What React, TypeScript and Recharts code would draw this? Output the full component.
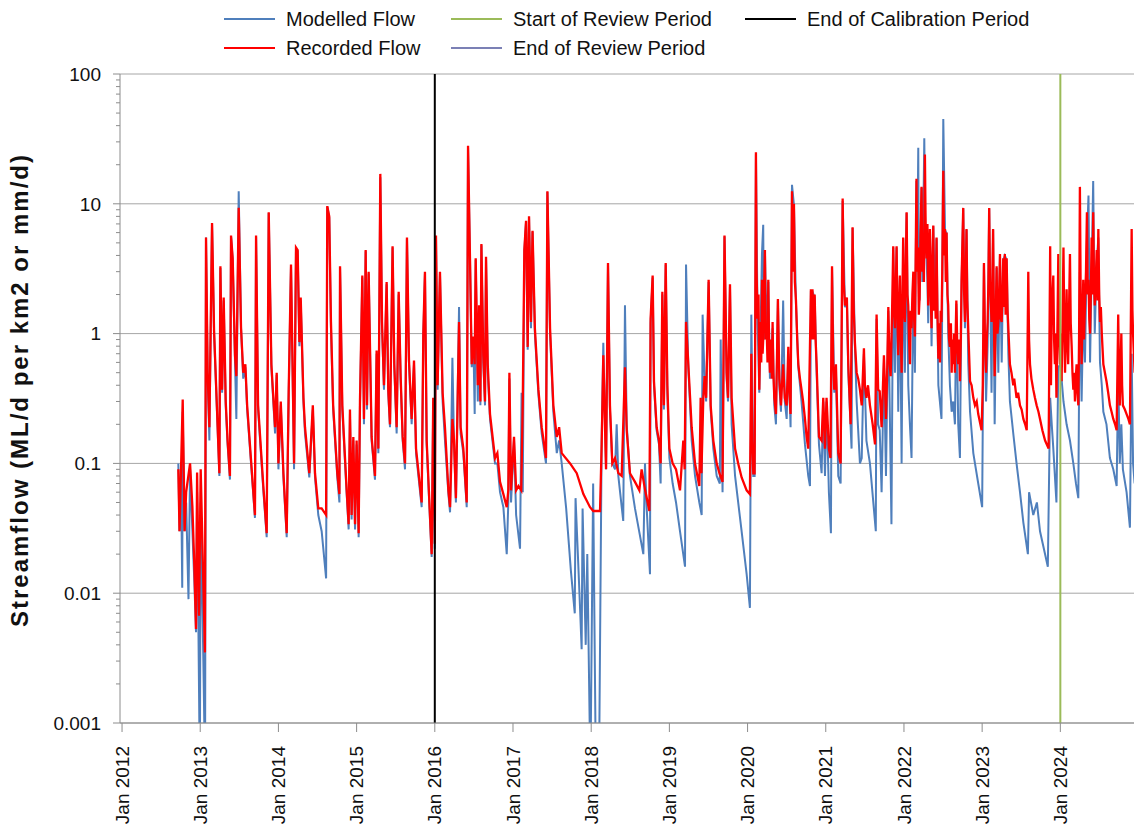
import { LineChart, Line, XAxis, YAxis, ReferenceLine, Legend, Label } from 'recharts';

// time as decimal year, flow in ML/d per km2
const recordedEarly: [number, number][] = [
  [2012.72, 0.09], [2012.735, 0.03], [2012.776, 0.31], [2012.8, 0.03], [2012.82, 0.06], [2012.87, 0.1],
  [2012.9, 0.046], [2012.925, 0.016], [2012.946, 0.0053], [2012.96, 0.085], [2012.985, 0.0067], [2013.006, 0.09],
  [2013.06, 0.0035], [2013.074, 5.5], [2013.095, 0.5], [2013.117, 0.19], [2013.151, 7.1], [2013.177, 1.05],
  [2013.245, 0.084], [2013.258, 3.3], [2013.28, 0.37], [2013.3, 1.9], [2013.326, 0.3], [2013.35, 0.15],
  [2013.38, 0.08], [2013.394, 5.7], [2013.415, 3.8], [2013.445, 0.68], [2013.462, 0.47], [2013.492, 9.3],
  [2013.522, 1.1], [2013.55, 0.5], [2013.577, 0.58], [2013.6, 0.28], [2013.7, 0.04], [2013.714, 5.7],
  [2013.74, 0.28], [2013.807, 0.067], [2013.85, 0.029], [2013.876, 8.6], [2013.91, 0.58], [2013.957, 0.19],
  [2013.978, 0.5], [2014.0, 0.1], [2014.03, 0.3], [2014.064, 0.084], [2014.106, 0.029], [2014.131, 0.35],
  [2014.161, 3.4], [2014.2, 0.1], [2014.225, 4.6], [2014.246, 4.4], [2014.268, 0.86], [2014.285, 1.9],
  [2014.32, 0.32], [2014.34, 0.19], [2014.395, 0.084], [2014.44, 0.28], [2014.468, 0.084], [2014.51, 0.045],
  [2014.553, 0.045], [2014.61, 0.04], [2014.625, 9.6], [2014.65, 8], [2014.672, 1.23], [2014.7, 0.28],
  [2014.753, 0.084], [2014.78, 0.058], [2014.788, 3.3], [2014.817, 0.28], [2014.873, 0.062], [2014.898, 0.034],
  [2014.915, 0.26], [2014.936, 0.04], [2014.958, 0.16], [2014.98, 0.034], [2015.0, 0.15], [2015.026, 0.029],
  [2015.043, 0.3], [2015.073, 2.8], [2015.094, 0.22], [2015.116, 4.4], [2015.133, 0.28], [2015.154, 3.0],
  [2015.192, 0.16], [2015.235, 0.08], [2015.256, 0.74], [2015.278, 0.13], [2015.303, 17], [2015.325, 1.23],
  [2015.35, 0.4], [2015.384, 2.5], [2015.405, 0.37], [2015.427, 0.2], [2015.46, 4.7], [2015.482, 0.58],
  [2015.512, 0.19], [2015.538, 2.1], [2015.563, 0.47], [2015.589, 0.16], [2015.619, 0.1], [2015.644, 5.5],
  [2015.67, 0.62], [2015.704, 0.22], [2015.734, 0.62], [2015.76, 0.13], [2015.832, 0.05], [2015.853, 1.0],
  [2015.874, 3.0], [2015.896, 0.15], [2015.938, 0.04], [2015.96, 0.02], [2015.98, 0.32], [2016.0, 0.024],
];

const recordedMid: [number, number][] = [
  [2016.015, 5.7], [2016.036, 0.4], [2016.066, 3.0], [2016.1, 0.35], [2016.13, 0.19], [2016.174, 0.062],
  [2016.195, 0.046], [2016.225, 0.22], [2016.246, 0.15], [2016.27, 0.054], [2016.31, 1.23], [2016.33, 0.19],
  [2016.365, 0.13], [2016.408, 0.05], [2016.425, 28], [2016.45, 3.8], [2016.472, 0.58], [2016.493, 0.95],
  [2016.51, 0.58], [2016.523, 3.8], [2016.55, 0.4], [2016.566, 1.65], [2016.583, 0.3], [2016.596, 4.9],
  [2016.62, 0.68], [2016.642, 0.3], [2016.655, 3.9], [2016.677, 0.58], [2016.706, 0.24], [2016.77, 0.11],
  [2016.8, 0.12], [2016.834, 0.072], [2016.877, 0.058], [2016.92, 0.046], [2016.94, 0.062], [2016.954, 0.5],
  [2016.975, 0.062], [2017.013, 0.16], [2017.04, 0.062], [2017.07, 0.067], [2017.105, 0.062], [2017.125, 0.3],
  [2017.145, 4.4], [2017.167, 7.4], [2017.188, 0.79], [2017.205, 8], [2017.23, 1.23], [2017.25, 6.2],
  [2017.28, 1.1], [2017.325, 0.37], [2017.367, 0.19], [2017.422, 0.11], [2017.44, 12.5], [2017.474, 1.1],
  [2017.516, 0.28], [2017.56, 0.16], [2017.59, 0.19], [2017.623, 0.12], [2017.73, 0.1], [2017.815, 0.084],
  [2017.9, 0.058], [2017.985, 0.046], [2018.027, 0.043], [2018.113, 0.043], [2018.134, 0.14], [2018.155, 0.68],
  [2018.19, 0.09], [2018.215, 3.5], [2018.24, 0.28], [2018.27, 0.1], [2018.305, 0.11], [2018.347, 0.084],
  [2018.39, 0.08], [2018.432, 0.55], [2018.454, 0.18], [2018.496, 0.084], [2018.56, 0.072], [2018.616, 0.062],
  [2018.645, 0.09], [2018.69, 0.062], [2018.744, 0.043], [2018.76, 1.3], [2018.786, 2.8], [2018.803, 0.43],
  [2018.837, 0.19], [2018.867, 0.15], [2018.888, 0.1], [2018.91, 2.1], [2018.93, 0.28], [2018.953, 3.5],
  [2018.974, 0.4], [2019.0, 0.13], [2019.042, 0.1], [2019.085, 0.09], [2019.136, 0.062], [2019.178, 0.15],
  [2019.195, 0.09], [2019.213, 1.23], [2019.242, 0.58], [2019.285, 0.19], [2019.328, 0.1], [2019.383, 0.067],
  [2019.4, 0.32], [2019.41, 0.084], [2019.434, 0.32], [2019.45, 0.47], [2019.47, 0.32], [2019.502, 2.6],
  [2019.528, 0.28], [2019.562, 0.15], [2019.605, 0.1], [2019.64, 0.084], [2019.68, 0.072], [2019.705, 5.7],
  [2019.732, 0.5], [2019.75, 0.32], [2019.775, 2.4], [2019.796, 0.32], [2019.84, 0.13], [2019.88, 0.1],
  [2019.924, 0.078], [2019.988, 0.062], [2020.03, 0.058],
];

const recordedLate: [number, number][] = [
  [2020.048, 0.7], [2020.06, 0.15], [2020.073, 0.084], [2020.09, 0.084], [2020.107, 25], [2020.115, 3.0],
  [2020.128, 1.3], [2020.14, 2.0], [2020.15, 0.37], [2020.158, 0.8], [2020.167, 1.23], [2020.175, 0.6],
  [2020.184, 2.6], [2020.192, 0.7], [2020.2, 0.9], [2020.21, 2.0], [2020.222, 4.4], [2020.232, 0.9],
  [2020.244, 1.1], [2020.255, 0.6], [2020.265, 2.6], [2020.275, 0.8], [2020.286, 0.5], [2020.3, 0.9],
  [2020.31, 0.45], [2020.32, 1.23], [2020.33, 0.5], [2020.342, 0.32], [2020.363, 0.24], [2020.375, 0.6],
  [2020.388, 1.85], [2020.406, 0.45], [2020.427, 0.28], [2020.44, 0.4], [2020.455, 0.58], [2020.476, 0.32],
  [2020.5, 0.28], [2020.51, 0.45], [2020.521, 0.79], [2020.535, 0.35], [2020.55, 0.24], [2020.568, 12.5],
  [2020.58, 3.0], [2020.593, 10], [2020.605, 2.5], [2020.619, 1.8], [2020.635, 0.9], [2020.649, 0.58],
  [2020.67, 0.45], [2020.69, 0.37], [2020.71, 0.3], [2020.734, 0.22], [2020.755, 0.16], [2020.776, 0.13],
  [2020.81, 2.2], [2020.82, 0.9], [2020.83, 2.2], [2020.845, 0.9], [2020.858, 2.0], [2020.87, 0.9],
  [2020.883, 0.58], [2020.913, 0.16], [2020.947, 0.15], [2020.968, 0.32], [2020.99, 0.13], [2021.01, 0.32],
  [2021.04, 0.13], [2021.06, 0.11], [2021.08, 3.3], [2021.095, 0.6], [2021.109, 0.37], [2021.13, 0.58],
  [2021.16, 0.12], [2021.19, 0.1], [2021.216, 11], [2021.23, 2.5], [2021.245, 1.65], [2021.27, 1.9],
  [2021.288, 0.58], [2021.318, 0.2], [2021.343, 6.6], [2021.358, 1.5], [2021.373, 0.85], [2021.395, 0.5],
  [2021.415, 0.45], [2021.437, 0.37], [2021.46, 0.28], [2021.488, 0.77], [2021.5, 0.4], [2021.52, 0.32],
  [2021.54, 0.4], [2021.565, 0.28], [2021.6, 0.2], [2021.63, 0.14], [2021.65, 1.4], [2021.67, 0.37],
  [2021.69, 0.36], [2021.714, 0.19], [2021.744, 0.68], [2021.77, 0.22], [2021.785, 0.5], [2021.8, 1.6],
  [2021.815, 0.6], [2021.83, 0.47], [2021.845, 1.2], [2021.863, 4.7], [2021.875, 1.4], [2021.885, 1.1],
  [2021.895, 2.2], [2021.906, 4.7], [2021.917, 1.3], [2021.927, 0.68], [2021.937, 1.5], [2021.948, 2.8],
  [2021.958, 1.0], [2021.97, 0.5], [2021.98, 1.8], [2021.99, 5.5], [2022.0, 1.5], [2022.012, 1.23],
  [2022.022, 3.0], [2022.034, 8.6], [2022.045, 2.0], [2022.055, 1.65], [2022.065, 0.9], [2022.076, 0.58],
  [2022.087, 1.5], [2022.097, 1.1], [2022.108, 2.0], [2022.12, 3.0], [2022.13, 1.3], [2022.14, 0.95],
  [2022.15, 4.0], [2022.16, 15.6], [2022.17, 3.0], [2022.18, 4.6], [2022.19, 1.4], [2022.2, 1.9],
  [2022.212, 6.0], [2022.225, 13.5], [2022.235, 3.0], [2022.245, 5.8], [2022.255, 2.5], [2022.268, 24],
  [2022.278, 6.0], [2022.29, 3.8], [2022.3, 7.0], [2022.31, 1.65], [2022.32, 3.0], [2022.332, 6.4],
  [2022.342, 2.0], [2022.353, 1.1], [2022.363, 3.5], [2022.375, 6.8], [2022.385, 1.5], [2022.396, 2.4],
  [2022.406, 1.3], [2022.417, 5.5], [2022.428, 1.5], [2022.44, 0.64], [2022.45, 1.2], [2022.46, 0.6],
  [2022.47, 1.5], [2022.48, 1.23], [2022.49, 3.0], [2022.503, 18], [2022.513, 4.0], [2022.525, 6.4],
  [2022.535, 2.5], [2022.545, 6], [2022.556, 2.0], [2022.566, 1.65], [2022.577, 0.9], [2022.588, 0.79],
  [2022.6, 1.2], [2022.61, 0.5], [2022.62, 0.9], [2022.63, 0.58], [2022.64, 1.0], [2022.652, 0.5],
  [2022.66, 0.9], [2022.67, 1.8], [2022.682, 0.8], [2022.694, 0.58], [2022.705, 0.9], [2022.716, 0.43],
  [2022.727, 0.9], [2022.737, 2.6], [2022.758, 9.3], [2022.768, 2.2], [2022.78, 1.23], [2022.79, 2.5],
  [2022.8, 6.4], [2022.81, 1.8], [2022.822, 1.1], [2022.833, 0.7], [2022.845, 0.43], [2022.865, 0.4],
  [2022.887, 0.32], [2022.908, 0.28], [2022.93, 0.3], [2022.95, 0.24], [2022.993, 0.18], [2023.008, 0.4],
  [2023.023, 3.5], [2023.035, 0.9], [2023.05, 0.5], [2023.06, 0.9], [2023.07, 1.23], [2023.08, 2.5],
  [2023.09, 9.3], [2023.1, 2.5], [2023.11, 1.8], [2023.12, 1.23], [2023.13, 2.5], [2023.14, 6.4],
  [2023.15, 1.3], [2023.16, 0.47], [2023.172, 1.2], [2023.185, 3.3], [2023.196, 1.0], [2023.207, 1.23],
  [2023.217, 2.0], [2023.228, 4.1], [2023.238, 1.3], [2023.25, 1.23], [2023.26, 2.0], [2023.27, 3.8],
  [2023.28, 1.6], [2023.29, 4.1], [2023.3, 1.4], [2023.313, 3.8], [2023.325, 1.5], [2023.335, 1.1],
  [2023.345, 0.8], [2023.355, 0.58], [2023.375, 0.5], [2023.398, 0.4], [2023.41, 0.45], [2023.44, 0.32],
  [2023.46, 0.35], [2023.484, 0.28], [2023.505, 0.26], [2023.527, 0.22], [2023.55, 0.2], [2023.57, 0.18],
  [2023.59, 3.0], [2023.6, 0.9], [2023.612, 0.58], [2023.63, 0.45], [2023.654, 0.37], [2023.675, 0.32],
  [2023.697, 0.28], [2023.72, 0.25], [2023.74, 0.22], [2023.77, 0.18], [2023.805, 0.15], [2023.85, 0.13],
  [2023.87, 4.7], [2023.88, 0.4], [2023.89, 1.55], [2023.91, 2.8], [2023.92, 0.9], [2023.93, 0.58],
  [2023.94, 1.0], [2023.95, 0.32], [2023.962, 1.0], [2023.974, 4.1], [2023.985, 1.0], [2023.995, 0.58],
  [2024.005, 1.0], [2024.016, 0.43], [2024.028, 1.2], [2024.04, 4.6], [2024.05, 1.2], [2024.06, 0.5],
  [2024.07, 1.0], [2024.08, 2.2], [2024.09, 0.9], [2024.1, 0.58], [2024.11, 1.4], [2024.123, 4.1],
  [2024.133, 1.2], [2024.145, 0.79], [2024.155, 0.5], [2024.166, 0.37], [2024.177, 0.5], [2024.187, 0.3],
  [2024.197, 0.45], [2024.208, 0.58], [2024.22, 0.35], [2024.23, 0.28], [2024.24, 1.0], [2024.25, 13.5],
  [2024.26, 2.0], [2024.272, 0.58], [2024.282, 1.2], [2024.293, 2.6], [2024.303, 0.9], [2024.315, 1.65],
  [2024.328, 3.0], [2024.34, 8.6], [2024.35, 2.0], [2024.36, 2.6], [2024.37, 1.3], [2024.38, 1.0],
  [2024.39, 2.0], [2024.4, 5.5], [2024.41, 2.0], [2024.42, 8.6], [2024.43, 2.5], [2024.44, 1.65],
  [2024.452, 2.5], [2024.465, 4.4], [2024.475, 1.8], [2024.486, 6.4], [2024.497, 2.0], [2024.507, 1.23],
  [2024.518, 1.6], [2024.53, 1.0], [2024.55, 0.58], [2024.57, 0.5], [2024.59, 0.43], [2024.612, 0.35],
  [2024.634, 0.28], [2024.655, 0.25], [2024.677, 0.22], [2024.7, 0.2], [2024.72, 0.18], [2024.74, 1.4],
  [2024.75, 0.5], [2024.76, 0.28], [2024.78, 1.0], [2024.79, 0.4], [2024.8, 0.28], [2024.825, 0.26],
  [2024.847, 0.24], [2024.87, 0.22], [2024.89, 0.2], [2024.912, 6.4], [2024.922, 1.5], [2024.93, 1.0],
  [2024.95, 0.5],
];

const modelledEarly: [number, number][] = [
  [2012.72, 0.1], [2012.735, 0.03], [2012.755, 0.08], [2012.77, 0.011], [2012.776, 0.25], [2012.8, 0.03],
  [2012.82, 0.05], [2012.85, 0.009], [2012.87, 0.09], [2012.9, 0.03], [2012.925, 0.012], [2012.946, 0.005],
  [2012.96, 0.06], [2012.985, 0.0017], [2012.995, 0.0004], [2013.006, 0.05], [2013.04, 0.003], [2013.062, 0.0004],
  [2013.074, 5.5], [2013.095, 0.45], [2013.117, 0.15], [2013.151, 7.0], [2013.177, 1.0], [2013.245, 0.08],
  [2013.258, 3.2], [2013.28, 0.35], [2013.3, 1.8], [2013.326, 0.28], [2013.35, 0.14], [2013.38, 0.075],
  [2013.394, 5.6], [2013.415, 3.7], [2013.445, 0.6], [2013.462, 0.22], [2013.492, 12.5], [2013.522, 1.1],
  [2013.55, 0.45], [2013.577, 0.55], [2013.6, 0.26], [2013.7, 0.038], [2013.714, 5.6], [2013.74, 0.26],
  [2013.807, 0.062], [2013.85, 0.027], [2013.876, 8.5], [2013.91, 0.55], [2013.957, 0.17], [2013.978, 0.48],
  [2014.0, 0.09], [2014.03, 0.28], [2014.064, 0.078], [2014.106, 0.027], [2014.131, 0.33], [2014.161, 3.3],
  [2014.2, 0.09], [2014.225, 4.5], [2014.246, 4.3], [2014.268, 0.8], [2014.285, 1.8], [2014.32, 0.3],
  [2014.34, 0.17], [2014.395, 0.078], [2014.44, 0.26], [2014.468, 0.078], [2014.51, 0.04], [2014.553, 0.03],
  [2014.61, 0.013], [2014.625, 9.5], [2014.65, 7.8], [2014.672, 1.1], [2014.7, 0.26], [2014.753, 0.078],
  [2014.78, 0.05], [2014.788, 3.2], [2014.817, 0.26], [2014.873, 0.058], [2014.898, 0.031], [2014.915, 0.24],
  [2014.936, 0.037], [2014.958, 0.15], [2014.98, 0.031], [2015.0, 0.14], [2015.026, 0.027], [2015.043, 0.28],
  [2015.073, 2.7], [2015.094, 0.2], [2015.116, 4.3], [2015.133, 0.26], [2015.154, 2.9], [2015.192, 0.15],
  [2015.235, 0.075], [2015.256, 0.7], [2015.278, 0.12], [2015.303, 16], [2015.325, 1.1], [2015.35, 0.37],
  [2015.384, 2.4], [2015.405, 0.34], [2015.427, 0.19], [2015.46, 4.6], [2015.482, 0.55], [2015.512, 0.17],
  [2015.538, 2.0], [2015.563, 0.44], [2015.589, 0.15], [2015.619, 0.09], [2015.644, 5.4], [2015.67, 0.58],
  [2015.704, 0.2], [2015.734, 0.58], [2015.76, 0.12], [2015.832, 0.046], [2015.853, 0.95], [2015.874, 2.9],
  [2015.896, 0.14], [2015.938, 0.037], [2015.96, 0.019], [2015.98, 0.3], [2016.0, 0.022],
];

const modelledMid: [number, number][] = [
  [2016.015, 5.6], [2016.036, 0.37], [2016.066, 2.9], [2016.1, 0.3], [2016.13, 0.15], [2016.174, 0.058],
  [2016.195, 0.042], [2016.225, 0.65], [2016.246, 0.14], [2016.27, 0.05], [2016.31, 1.6], [2016.33, 0.17],
  [2016.365, 0.12], [2016.408, 0.046], [2016.425, 27], [2016.45, 3.7], [2016.472, 0.55], [2016.493, 0.9],
  [2016.51, 0.24], [2016.523, 3.7], [2016.55, 0.3], [2016.566, 1.6], [2016.583, 0.28], [2016.596, 4.8],
  [2016.62, 0.6], [2016.642, 0.28], [2016.655, 3.8], [2016.677, 0.5], [2016.706, 0.22], [2016.77, 0.1],
  [2016.8, 0.1], [2016.834, 0.06], [2016.877, 0.046], [2016.92, 0.02], [2016.94, 0.05], [2016.954, 0.45],
  [2016.975, 0.05], [2017.013, 0.15], [2017.04, 0.04], [2017.09, 0.022], [2017.11, 0.35], [2017.125, 0.06],
  [2017.145, 4.3], [2017.167, 7.3], [2017.188, 0.75], [2017.205, 7.9], [2017.23, 1.1], [2017.25, 6.1],
  [2017.28, 1.0], [2017.325, 0.34], [2017.367, 0.17], [2017.422, 0.1], [2017.44, 12.3], [2017.474, 1.0],
  [2017.516, 0.25], [2017.56, 0.12], [2017.59, 0.15], [2017.623, 0.1], [2017.68, 0.045], [2017.74, 0.015],
  [2017.79, 0.007], [2017.8, 0.054], [2017.85, 0.01], [2017.878, 0.0037], [2017.89, 0.045], [2017.93, 0.004],
  [2017.95, 0.02], [2017.99, 0.0004], [2018.025, 0.07], [2018.06, 0.0004], [2018.1, 0.0004], [2018.134, 0.15],
  [2018.155, 0.85], [2018.19, 0.09], [2018.215, 3.4], [2018.24, 0.26], [2018.27, 0.1], [2018.305, 0.09],
  [2018.326, 0.2], [2018.347, 0.08], [2018.41, 0.036], [2018.432, 1.65], [2018.454, 0.2], [2018.496, 0.08],
  [2018.56, 0.045], [2018.667, 0.02], [2018.688, 0.1], [2018.71, 0.045], [2018.752, 0.014], [2018.76, 1.2],
  [2018.786, 2.7], [2018.803, 0.4], [2018.837, 0.18], [2018.867, 0.14], [2018.888, 0.07], [2018.91, 2.0],
  [2018.93, 0.26], [2018.953, 3.4], [2018.974, 0.35], [2019.0, 0.11], [2019.042, 0.07], [2019.085, 0.05],
  [2019.136, 0.03], [2019.2, 0.016], [2019.213, 3.4], [2019.242, 0.55], [2019.285, 0.15], [2019.328, 0.08],
  [2019.383, 0.05], [2019.413, 0.04], [2019.425, 1.4], [2019.45, 0.45], [2019.47, 0.3], [2019.502, 2.5],
  [2019.528, 0.26], [2019.562, 0.13], [2019.605, 0.08], [2019.645, 0.07], [2019.656, 0.9], [2019.68, 0.06],
  [2019.705, 5.6], [2019.732, 0.45], [2019.75, 0.3], [2019.775, 2.3], [2019.796, 0.2], [2019.84, 0.08],
  [2019.88, 0.05], [2019.924, 0.03], [2019.988, 0.014], [2020.03, 0.0077],
];

const modelledLate: [number, number][] = [
  [2020.048, 1.4], [2020.073, 0.08], [2020.09, 0.08], [2020.107, 24], [2020.128, 1.2], [2020.15, 0.35],
  [2020.167, 1.1], [2020.184, 4.1], [2020.2, 6.9], [2020.21, 0.9], [2020.222, 4.3], [2020.244, 1.0],
  [2020.265, 2.5], [2020.286, 0.45], [2020.32, 1.1], [2020.342, 0.28], [2020.363, 0.2], [2020.388, 1.8],
  [2020.406, 0.4], [2020.427, 0.25], [2020.455, 1.8], [2020.476, 0.3], [2020.5, 0.22], [2020.521, 0.7],
  [2020.55, 0.19], [2020.568, 14], [2020.593, 9.8], [2020.619, 1.7], [2020.649, 0.55], [2020.69, 0.3],
  [2020.734, 0.14], [2020.776, 0.08], [2020.798, 0.067], [2020.81, 2.1], [2020.83, 2.1], [2020.858, 1.9],
  [2020.883, 0.5], [2020.913, 0.14], [2020.947, 0.084], [2020.968, 0.3], [2020.99, 0.08], [2021.01, 0.3],
  [2021.04, 0.06], [2021.066, 0.029], [2021.08, 3.2], [2021.109, 0.35], [2021.13, 0.5], [2021.16, 0.08],
  [2021.19, 0.07], [2021.216, 10.5], [2021.245, 1.6], [2021.27, 1.8], [2021.288, 0.5], [2021.33, 0.13],
  [2021.343, 6.5], [2021.373, 0.8], [2021.395, 0.3], [2021.437, 0.1], [2021.46, 0.11], [2021.488, 0.7],
  [2021.52, 0.15], [2021.565, 0.1], [2021.64, 0.03], [2021.65, 1.3], [2021.67, 0.2], [2021.69, 0.18],
  [2021.714, 0.06], [2021.744, 0.6], [2021.77, 0.08], [2021.8, 1.5], [2021.84, 0.034], [2021.863, 4.6],
  [2021.885, 0.5], [2021.906, 4.6], [2021.927, 0.25], [2021.948, 2.7], [2021.97, 0.1], [2021.99, 5.4],
  [2022.012, 0.5], [2022.034, 8.5], [2022.055, 0.4], [2022.076, 0.2], [2022.097, 0.11], [2022.12, 2.9],
  [2022.14, 0.5], [2022.15, 3.0], [2022.16, 15], [2022.17, 4], [2022.183, 27], [2022.19, 2.5],
  [2022.2, 1.8], [2022.212, 5], [2022.225, 13.3], [2022.235, 2.5], [2022.245, 5.5], [2022.26, 32],
  [2022.27, 8], [2022.28, 5], [2022.29, 3.6], [2022.3, 2.5], [2022.31, 1.2], [2022.332, 6.3],
  [2022.353, 0.8], [2022.375, 6.7], [2022.396, 2.0], [2022.417, 5.4], [2022.44, 0.4], [2022.48, 0.22],
  [2022.503, 45], [2022.525, 6.3], [2022.545, 5.9], [2022.566, 1.0], [2022.588, 0.4], [2022.61, 0.25],
  [2022.63, 0.3], [2022.652, 0.2], [2022.67, 1.7], [2022.694, 0.2], [2022.716, 0.11], [2022.737, 2.5],
  [2022.758, 9.2], [2022.78, 1.1], [2022.8, 6.3], [2022.822, 0.6], [2022.845, 0.25], [2022.887, 0.12],
  [2022.908, 0.1], [2022.95, 0.07], [2023.0, 0.046], [2023.023, 3.4], [2023.05, 0.3], [2023.07, 0.8],
  [2023.09, 9.2], [2023.12, 0.35], [2023.14, 6.3], [2023.16, 0.2], [2023.185, 3.2], [2023.207, 0.5],
  [2023.228, 4.0], [2023.25, 0.6], [2023.27, 3.7], [2023.29, 4.0], [2023.313, 3.7], [2023.335, 0.7],
  [2023.355, 0.3], [2023.398, 0.17], [2023.44, 0.1], [2023.484, 0.06], [2023.527, 0.035], [2023.585, 0.02],
  [2023.6, 0.06], [2023.654, 0.04], [2023.7, 0.05], [2023.74, 0.03], [2023.84, 0.016], [2023.87, 0.32],
  [2023.89, 0.2], [2023.91, 0.13], [2023.95, 0.05], [2023.974, 0.55], [2024.0, 0.58], [2024.04, 0.3],
  [2024.08, 0.2], [2024.123, 0.15], [2024.166, 0.1], [2024.2, 0.07], [2024.23, 0.054], [2024.25, 3.0],
  [2024.272, 0.3], [2024.293, 1.5], [2024.315, 0.6], [2024.34, 5], [2024.36, 11.6], [2024.38, 0.6],
  [2024.4, 3], [2024.42, 15], [2024.44, 1.0], [2024.465, 3.5], [2024.486, 5.5], [2024.507, 0.6],
  [2024.53, 0.4], [2024.55, 0.25], [2024.59, 0.2], [2024.634, 0.11], [2024.677, 0.09], [2024.72, 0.067],
  [2024.74, 0.5], [2024.76, 0.1], [2024.78, 0.2], [2024.8, 0.09], [2024.847, 0.06], [2024.89, 0.032],
  [2024.912, 0.7], [2024.93, 0.1], [2024.95, 0.07],
];

const yearTicks = [2012, 2013, 2014, 2015, 2016, 2017, 2018, 2019, 2020, 2021, 2022, 2023, 2024];
const flowTicks = [0.001, 0.01, 0.1, 1, 10, 100];
const minorFlowTicks = [
  0.002, 0.003, 0.004, 0.005, 0.006, 0.007, 0.008, 0.009,
  0.02, 0.03, 0.04, 0.05, 0.06, 0.07, 0.08, 0.09,
  0.2, 0.3, 0.4, 0.5, 0.6, 0.7, 0.8, 0.9,
  2, 3, 4, 5, 6, 7, 8, 9,
  20, 30, 40, 50, 60, 70, 80, 90,
];

const endOfCalibration = 2016;
const startOfReview = 2024;

const COLORS = {
  modelled: '#4f7fbc',
  recorded: '#ff0000',
  startReview: '#9bbb59',
  endCalibration: '#000000',
  endReview: '#7b80b5',
};

const FONT = '"Liberation Sans", Arial, sans-serif';
const PLOT_LEFT = 120;
const PLOT_TOP = 74;
const PLOT_BOTTOM = 723;
const AXIS_GREY = '#8c8c8c';

const toRows = (pts: [number, number][]) => pts.map(([t, q]) => ({ t, q }));
const recordedRows = toRows([...recordedEarly, ...recordedMid, ...recordedLate]);
const modelledRows = toRows([...modelledEarly, ...modelledMid, ...modelledLate]);

function FlowTick(props: any) {
  const { y, payload } = props;
  const major = flowTicks.includes(payload.value);
  return (
    <g>
      <line x1={PLOT_LEFT - (major ? 7 : 4)} x2={PLOT_LEFT} y1={y} y2={y} stroke={AXIS_GREY} />
      {major && (
        <text x={101} y={y} dy="0.36em" textAnchor="end" fontSize={19} fill="#111" fontFamily={FONT}>
          {String(payload.value)}
        </text>
      )}
    </g>
  );
}

function YearTick(props: any) {
  const { x, payload } = props;
  const top = 746;
  return (
    <g>
      <line x1={x} x2={x} y1={PLOT_BOTTOM} y2={PLOT_BOTTOM + 9} stroke={AXIS_GREY} />
      <text
        x={x}
        y={top}
        dy="0.35em"
        textAnchor="end"
        transform={`rotate(-90 ${x} ${top})`}
        fontSize={19}
        fill="#111"
        fontFamily={FONT}
      >
        {`Jan ${payload.value}`}
      </text>
    </g>
  );
}

const legendRows = [
  [
    { label: 'Modelled Flow', color: COLORS.modelled },
    { label: 'Start of Review Period', color: COLORS.startReview },
    { label: 'End of Calibration Period', color: COLORS.endCalibration },
  ],
  [
    { label: 'Recorded Flow', color: COLORS.recorded },
    { label: 'End of Review Period', color: COLORS.endReview },
  ],
];

function ChartLegend() {
  const colX = [224, 451, 745];
  const rowY = [19, 48];
  return (
    <div style={{ position: 'relative', width: 1134, height: 66, fontFamily: FONT, fontSize: 20, color: '#111' }}>
      {legendRows.map((row, r) =>
        row.map((item, c) => (
          <div
            key={item.label}
            style={{
              position: 'absolute',
              left: colX[c],
              top: rowY[r] - 12,
              height: 24,
              display: 'flex',
              alignItems: 'center',
              whiteSpace: 'nowrap',
            }}
          >
            <span style={{ display: 'inline-block', width: 51, height: 2, background: item.color, marginRight: 11 }} />
            <span>{item.label}</span>
          </div>
        ))
      )}
    </div>
  );
}

function AxisTitle() {
  const cx = 20;
  const cy = 390;
  return (
    <text
      x={cx}
      y={cy}
      transform={`rotate(-90 ${cx} ${cy})`}
      textAnchor="middle"
      dy="0.35em"
      fontSize={24}
      fontWeight="bold"
      letterSpacing={2}
      fill="#111"
      fontFamily={FONT}
    >
      Streamflow (ML/d per km2 or mm/d)
    </text>
  );
}

export default function App() {
  return (
    <div style={{ width: 1134, height: 828, overflow: 'hidden', background: '#fff' }}>
      <style>{'body{margin:0;background:#fff}'}</style>
      <LineChart
        width={1134}
        height={828}
        margin={{ top: PLOT_TOP, right: 0, bottom: 0, left: 0 }}
        style={{ fontFamily: FONT }}
      >
        <XAxis
          dataKey="t"
          type="number"
          domain={[2011.974, 2024.942]}
          ticks={yearTicks}
          interval={0}
          allowDataOverflow
          height={828 - PLOT_BOTTOM}
          tick={<YearTick />}
          tickLine={false}
          axisLine={{ stroke: AXIS_GREY }}
        />
        <YAxis
          dataKey="q"
          scale="log"
          type="number"
          domain={[0.001, 100]}
          ticks={[...flowTicks, ...minorFlowTicks].sort((a, b) => a - b)}
          interval={0}
          allowDataOverflow
          width={PLOT_LEFT}
          tick={<FlowTick />}
          tickLine={false}
          axisLine={{ stroke: AXIS_GREY }}
        >
          <Label content={<AxisTitle />} />
        </YAxis>
        {flowTicks.map((v) => (
          <ReferenceLine key={v} y={v} stroke="#a6a6a6" strokeWidth={1} />
        ))}
        <Line
          data={modelledRows}
          dataKey="q"
          name="Modelled Flow"
          type="linear"
          stroke={COLORS.modelled}
          strokeWidth={2}
          dot={false}
          isAnimationActive={false}
        />
        <Line
          data={recordedRows}
          dataKey="q"
          name="Recorded Flow"
          type="linear"
          stroke={COLORS.recorded}
          strokeWidth={2.3}
          dot={false}
          isAnimationActive={false}
        />
        <ReferenceLine x={endOfCalibration} stroke={COLORS.endCalibration} strokeWidth={2} />
        <ReferenceLine x={startOfReview} stroke={COLORS.startReview} strokeWidth={2} />
        <Legend
          layout="horizontal"
          verticalAlign="middle"
          align="center"
          wrapperStyle={{ top: 0, left: 0, width: 1134, height: 66 }}
          content={() => <ChartLegend />}
        />
      </LineChart>
    </div>
  );
}
